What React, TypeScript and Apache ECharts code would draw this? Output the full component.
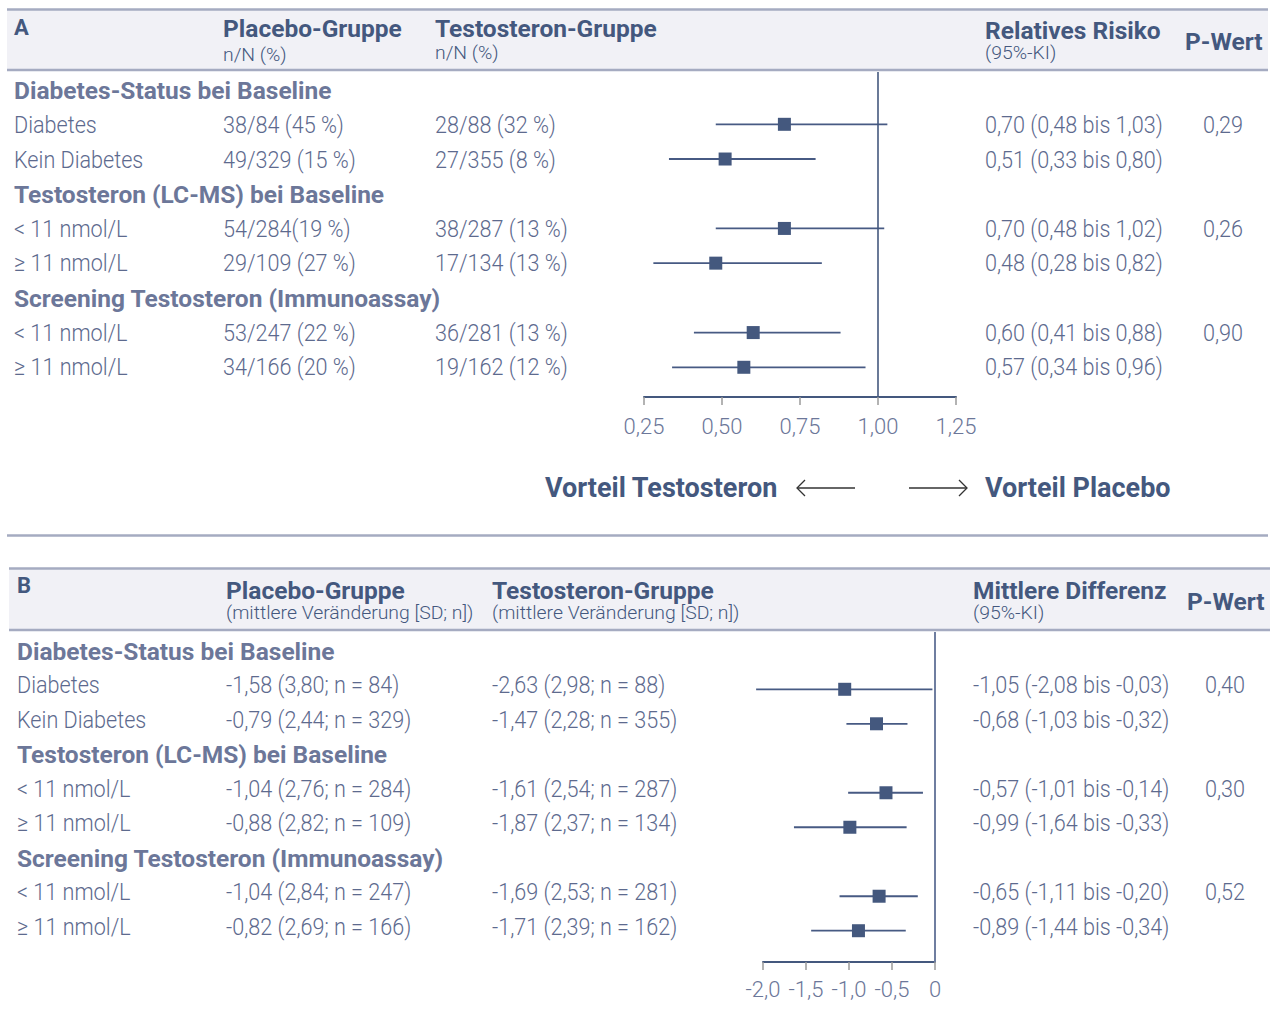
import React, { useEffect, useRef } from "react";
import * as echarts from "echarts";

const W = 1272;
const H = 1021;
const DARK = "#44587e";
const GROUP = "#6c7799";
const TEXT = "#5d6a8e";
const RULE = "#a5abc1";
const BAND = "#f1f1f6";
const CI = "#475a83";
const FONT = "Roboto";

// ---------- shared row structure ----------
const groupTitles = [
  "Diabetes-Status bei Baseline",
  "Testosteron (LC-MS) bei Baseline",
  "Screening Testosteron (Immunoassay)",
];
const subgroupLabels = [
  "Diabetes",
  "Kein Diabetes",
  "< 11 nmol/L",
  "≥ 11 nmol/L",
  "< 11 nmol/L",
  "≥ 11 nmol/L",
];

// ---------- Panel A ----------
const placeboA = [
  "38/84 (45 %)",
  "49/329 (15 %)",
  "54/284(19 %)",
  "29/109 (27 %)",
  "53/247 (22 %)",
  "34/166 (20 %)",
];
const testoA = [
  "28/88 (32 %)",
  "27/355 (8 %)",
  "38/287 (13 %)",
  "17/134 (13 %)",
  "36/281 (13 %)",
  "19/162 (12 %)",
];
const rrEst = [0.7, 0.51, 0.7, 0.48, 0.6, 0.57];
const rrLo = [0.48, 0.33, 0.48, 0.28, 0.41, 0.34];
const rrHi = [1.03, 0.8, 1.02, 0.82, 0.88, 0.96];
const pA = ["0,29", "0,26", "0,90"];
const tickValuesA = [0.25, 0.5, 0.75, 1.0, 1.25];
const tickLabelsA = ["0,25", "0,50", "0,75", "1,00", "1,25"];

// ---------- Panel B ----------
const placeboB = [
  "-1,58 (3,80; n = 84)",
  "-0,79 (2,44; n = 329)",
  "-1,04 (2,76; n = 284)",
  "-0,88 (2,82; n = 109)",
  "-1,04 (2,84; n = 247)",
  "-0,82 (2,69; n = 166)",
];
const testoB = [
  "-2,63 (2,98; n = 88)",
  "-1,47 (2,28; n = 355)",
  "-1,61 (2,54; n = 287)",
  "-1,87 (2,37; n = 134)",
  "-1,69 (2,53; n = 281)",
  "-1,71 (2,39; n = 162)",
];
const mdEst = [-1.05, -0.68, -0.57, -0.99, -0.65, -0.89];
const mdLo = [-2.08, -1.03, -1.01, -1.64, -1.11, -1.44];
const mdHi = [-0.03, -0.32, -0.14, -0.33, -0.2, -0.34];
const pB = ["0,40", "0,30", "0,52"];
const tickValuesB = [-2, -1.5, -1, -0.5, 0];
const tickLabelsB = ["-2,0", "-1,5", "-1,0", "-0,5", "0"];

const fmt2 = (v: number) => v.toFixed(2).replace(".", ",");
const rowIndex = (k: number) => Math.floor(k / 2) * 3 + 1 + (k % 2);

type TOpt = { size?: number; weight?: any; color?: string; sx?: number; align?: string };
function txt(x: number, y: number, s: string, o: TOpt = {}) {
  return {
    type: "text",
    x,
    y,
    scaleX: o.sx ?? 1,
    silent: true,
    style: {
      text: s,
      fontFamily: FONT,
      fontSize: o.size ?? 24,
      fontWeight: o.weight ?? 300,
      fill: o.color ?? TEXT,
      textAlign: o.align ?? "left",
      textVerticalAlign: "middle",
      align: o.align ?? "left",
      verticalAlign: "middle",
    },
  };
}
const LIGHT: TOpt = { size: 24, weight: 300, color: TEXT, sx: 0.9 };
const BOLDG: TOpt = { size: 24.5, weight: 700, color: GROUP, sx: 1.0 };
const HEAD: TOpt = { size: 24.5, weight: 700, color: DARK, sx: 1.0 };
const SUB: TOpt = { size: 19, weight: 300, color: DARK, sx: 1.02 };
const ARROWTXT: TOpt = { size: 27, weight: 700, color: DARK, sx: 1.0 };

function hline(x1: number, x2: number, y: number, w = 2.5, c = RULE) {
  return { type: "line", silent: true, shape: { x1, y1: y, x2, y2: y }, style: { stroke: c, lineWidth: w } };
}

function tableTexts(
  top: number,
  step: number,
  cols: number[],
  placebo: string[],
  testo: string[],
  eff: string[],
  pvals: string[]
) {
  const out: any[] = [];
  groupTitles.forEach((g, gi) => {
    out.push(txt(cols[0], top + step * gi * 3, g, BOLDG));
  });
  subgroupLabels.forEach((l, k) => {
    const y = top + step * rowIndex(k);
    out.push(txt(cols[0], y, l, LIGHT));
    out.push(txt(cols[1], y, placebo[k], LIGHT));
    out.push(txt(cols[2], y, testo[k], LIGHT));
    out.push(txt(cols[3], y, eff[k], LIGHT));
    if (k % 2 === 0) out.push(txt(cols[4], y, pvals[k / 2], LIGHT));
  });
  return out;
}

// row -> pixel mapping used for the plot grids
const A_TOP_PX = 72, A_BOT_PX = 397, A_ROW0 = 89.6, A_STEP = 34.71;
const B_TOP_PX = 632, B_BOT_PX = 962, B_ROW0 = 654.8, B_STEP = 34.49;
const aMin = (A_TOP_PX - A_ROW0) / A_STEP;
const aMax = (A_BOT_PX - A_ROW0) / A_STEP;
const bMin = (B_TOP_PX - B_ROW0) / B_STEP;
const bMax = (B_BOT_PX - B_ROW0) / B_STEP;

function forestRender(params: any, api: any) {
  const y = api.value(3);
  const p = api.coord([api.value(0), y]);
  const a = api.coord([api.value(1), y]);
  const b = api.coord([api.value(2), y]);
  return {
    type: "group",
    children: [
      { type: "line", shape: { x1: a[0], y1: a[1], x2: b[0], y2: b[1] }, style: { stroke: CI, lineWidth: 1.8 } },
      { type: "rect", shape: { x: p[0] - 6.5, y: p[1] - 6.5, width: 13, height: 13 }, style: { fill: DARK } },
    ],
  };
}

function xAxisCfg(grid: number, min: number, max: number, vals: number[], labels: string[], margin: number) {
  return {
    gridIndex: grid,
    type: "value",
    min,
    max,
    interval: 0.25 * (grid === 0 ? 1 : 2),
    position: "bottom",
    axisLine: { show: true, onZero: false, lineStyle: { color: DARK, width: 2 } },
    axisTick: { show: true, length: 8, lineStyle: { color: "#9a9a9a", width: 1.5 } },
    splitLine: { show: false },
    axisLabel: {
      formatter: (v: number) => {
        const i = vals.findIndex((t) => Math.abs(t - v) < 1e-6);
        return i >= 0 ? labels[i] : "";
      },
      fontFamily: FONT,
      fontWeight: 300,
      fontSize: 22,
      color: GROUP,
      margin,
    },
  };
}

export default function App() {
  const ref = useRef<HTMLDivElement>(null);
  useEffect(() => {
    document.body.style.margin = "0";
    const chart = echarts.init(ref.current!, undefined, { renderer: "svg" });

    const rrText = rrEst.map((e, k) => `${fmt2(e)} (${fmt2(rrLo[k])} bis ${fmt2(rrHi[k])})`);
    const mdText = mdEst.map((e, k) => `${fmt2(e)} (${fmt2(mdLo[k])} bis ${fmt2(mdHi[k])})`);

    const graphics: any[] = [
      // Panel A header band
      { type: "rect", silent: true, shape: { x: 7, y: 9, width: 1261, height: 61 }, style: { fill: BAND } },
      hline(7, 1268, 9.5),
      hline(7, 1268, 70),
      txt(14, 27, "A", { size: 22, weight: 700, color: DARK }),
      txt(223, 28, "Placebo-Gruppe", HEAD),
      txt(223, 55, "n/N (%)", SUB),
      txt(435, 28, "Testosteron-Gruppe", HEAD),
      txt(435, 53, "n/N (%)", SUB),
      txt(985, 30, "Relatives Risiko", HEAD),
      txt(985, 53, "(95%-KI)", SUB),
      txt(1185, 41, "P-Wert", HEAD),
      ...tableTexts(90.5, 34.6, [14, 223, 435, 985, 1203], placeboA, testoA, rrText, pA),
      // arrows
      txt(545, 488, "Vorteil Testosteron", ARROWTXT),
      txt(985, 488, "Vorteil Placebo", ARROWTXT),
      { type: "line", silent: true, shape: { x1: 797, y1: 488, x2: 855, y2: 488 }, style: { stroke: "#333", lineWidth: 1.3 } },
      { type: "polyline", silent: true, shape: { points: [[805, 480], [797, 488], [805, 496]] }, style: { stroke: "#333", lineWidth: 1.3, fill: "none" } },
      { type: "line", silent: true, shape: { x1: 909, y1: 488, x2: 967, y2: 488 }, style: { stroke: "#333", lineWidth: 1.3 } },
      { type: "polyline", silent: true, shape: { points: [[959, 480], [967, 488], [959, 496]] }, style: { stroke: "#333", lineWidth: 1.3, fill: "none" } },
      // separator
      hline(7, 1268, 535.5),
      // Panel B header band
      { type: "rect", silent: true, shape: { x: 9, y: 568, width: 1261, height: 62 }, style: { fill: BAND } },
      hline(9, 1270, 568.5),
      hline(9, 1270, 630),
      txt(17, 585, "B", { size: 22, weight: 700, color: DARK }),
      txt(226, 590, "Placebo-Gruppe", HEAD),
      txt(226, 613, "(mittlere Veränderung [SD; n])", SUB),
      txt(492, 590, "Testosteron-Gruppe", HEAD),
      txt(492, 613, "(mittlere Veränderung [SD; n])", SUB),
      txt(973, 590, "Mittlere Differenz", HEAD),
      txt(973, 613, "(95%-KI)", SUB),
      txt(1187, 601, "P-Wert", HEAD),
      ...tableTexts(651, 34.5, [17, 226, 492, 973, 1205], placeboB, testoB, mdText, pB),
    ];

    chart.setOption({
      animation: false,
      grid: [
        { left: 644, width: 312, top: A_TOP_PX, height: A_BOT_PX - A_TOP_PX, containLabel: false },
        { left: 763, width: 172, top: B_TOP_PX, height: B_BOT_PX - B_TOP_PX, containLabel: false },
      ],
      xAxis: [
        xAxisCfg(0, 0.25, 1.25, tickValuesA, tickLabelsA, 18),
        xAxisCfg(1, -2, 0, tickValuesB, tickLabelsB, 16),
      ],
      yAxis: [
        { gridIndex: 0, type: "value", inverse: true, min: aMin, max: aMax, show: false },
        { gridIndex: 1, type: "value", inverse: true, min: bMin, max: bMax, show: false },
      ],
      series: [
        {
          type: "line",
          xAxisIndex: 0,
          yAxisIndex: 0,
          symbol: "none",
          silent: true,
          lineStyle: { color: DARK, width: 1.6 },
          data: [[1, aMin], [1, aMax]],
        },
        {
          type: "line",
          xAxisIndex: 1,
          yAxisIndex: 1,
          symbol: "none",
          silent: true,
          lineStyle: { color: "#6f7ea0", width: 2 },
          data: [[0, bMin], [0, bMax]],
        },
        {
          type: "custom",
          xAxisIndex: 0,
          yAxisIndex: 0,
          clip: false,
          renderItem: forestRender,
          encode: { x: [0, 1, 2], y: 3 },
          data: rrEst.map((e, k) => [e, rrLo[k], rrHi[k], rowIndex(k)]),
        },
        {
          type: "custom",
          xAxisIndex: 1,
          yAxisIndex: 1,
          clip: false,
          renderItem: forestRender,
          encode: { x: [0, 1, 2], y: 3 },
          data: mdEst.map((e, k) => [e, mdLo[k], mdHi[k], rowIndex(k)]),
        },
      ],
      graphic: { elements: graphics },
    });
    return () => chart.dispose();
  }, []);
  return <div ref={ref} style={{ width: W, height: H, background: "#fff" }} />;
}
